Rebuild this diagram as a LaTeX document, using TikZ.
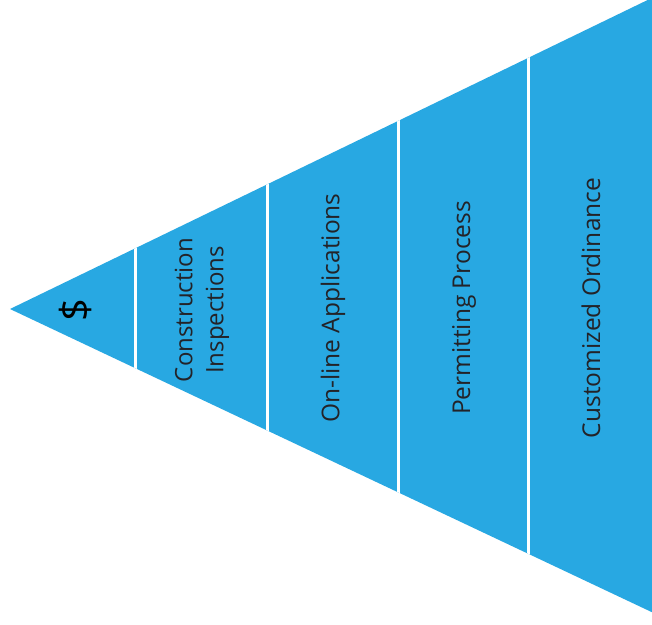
\documentclass[tikz,border=0pt]{standalone}
\usepackage{fontspec}
\setmainfont{Open Sans}
\usepackage{xcolor}
\usepackage{tikz}
\definecolor{funnel}{RGB}{40,168,226}
\definecolor{ink}{RGB}{35,35,40}

\begin{document}
\begin{tikzpicture}[x=1pt,y=-1pt,
  band/.style={rotate=90,text=ink,align=center,font=\fontsize{24}{31}\selectfont}]
\useasboundingbox (0,0) rectangle (652,624);
\fill[white] (0,0) rectangle (652,624);
% funnel
\fill[funnel] (10,309)--(660,-6)--(660,616)--cycle;
\begin{scope}
\clip (10,309)--(660,-6)--(660,616)--cycle;
\foreach \x in {135,267,398,528}
  \draw[white,line width=3pt] (\x,-10)--(\x,630);
\end{scope}
% labels
\node[band,font=\fontsize{40}{40}\selectfont,text=black] (dollar) at (75,310){\$};
\node[band] (inspect) at (202,310){Construction\\Inspections};
\node[band,font=\fontsize{24.5}{31}\selectfont] (online) at (333,308){On-line Applications};
\node[band,font=\fontsize{24.5}{31}\selectfont] (permit) at (464,308){Permitting Process};
\node[band,font=\fontsize{24.5}{31}\selectfont] (ordin) at (591,308){Customized Ordinance};
\end{tikzpicture}
\end{document}
